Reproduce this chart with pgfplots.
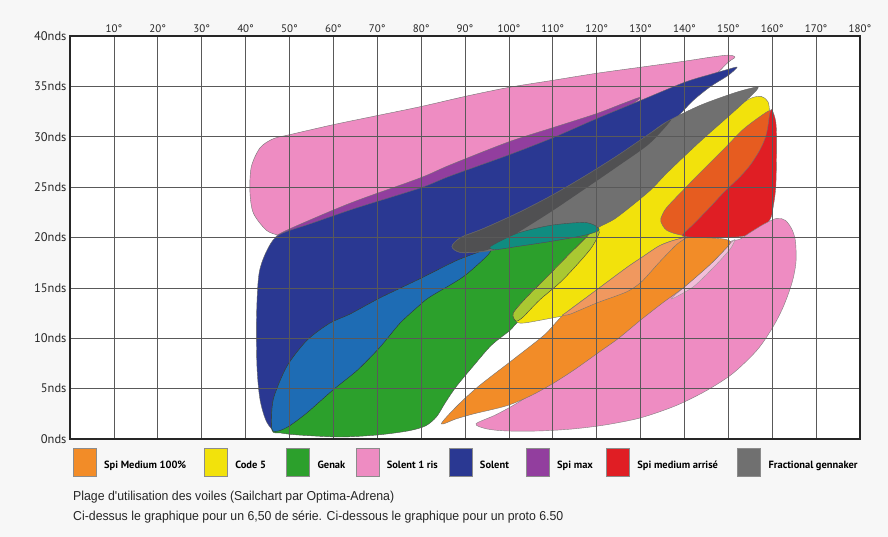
\documentclass[border=0pt]{standalone}
\usepackage{pgfplots}
\pgfplotsset{compat=1.18}
\usepackage{fontspec}
\setmainfont{PT Sans}
\newfontfamily\capfont[FakeStretch=0.95]{Liberation Sans}
\newfontfamily\legfont{PT Sans}
\definecolor{cpink}{RGB}{238,140,194}
\definecolor{cpurple}{RGB}{146,62,158}
\definecolor{cnavy}{RGB}{42,56,146}
\definecolor{clblue}{RGB}{30,108,180}
\definecolor{cgreen}{RGB}{44,160,44}
\definecolor{cteal}{RGB}{16,140,128}
\definecolor{cgray}{RGB}{112,112,112}
\definecolor{cdgray}{RGB}{80,80,82}
\definecolor{cyellow}{RGB}{242,226,12}
\definecolor{clime}{RGB}{170,200,50}
\definecolor{cored}{RGB}{230,92,32}
\definecolor{cred}{RGB}{224,30,36}
\definecolor{corange}{RGB}{242,140,40}
\definecolor{clorange}{RGB}{240,152,95}
\definecolor{clpink}{RGB}{242,190,218}
\begin{document}
\begin{tikzpicture}
\useasboundingbox[fill=black!3] (0,0) rectangle (888bp,537bp);
\begin{axis}[
  at={(70bp,98bp)}, anchor=south west,
  scale only axis, width=790bp, height=403bp,
  xmin=0, xmax=180, ymin=0, ymax=40,
  axis background/.style={fill=white},
  xtick={10,20,...,180},
  xticklabels={10°,20°,30°,40°,50°,60°,70°,80°,90°,100°,110°,120°,130°,140°,150°,160°,170°,180°},
  ytick={0,5,...,40},
  yticklabels={0nds,5nds,10nds,15nds,20nds,25nds,30nds,35nds,40nds},
  xticklabel pos=upper,
  grid=major, major grid style={black!65, line width=0.6pt},
  major tick length=0pt,
  axis on top,
  axis line style={black!85, line width=1.1pt},
  xticklabel style={font=\fontsize{11}{13}\selectfont, text=black!85},
  yticklabel style={font=\fontsize{12.5}{14}\selectfont, text=black!85},
  legend columns=8,
  legend cell align=left,
  legend style={at={(axis description cs:0.0038,-0.057)}, anchor=west,
    draw=none, fill=none, column sep=0pt, inner sep=0pt, outer sep=0pt,
    nodes={inner sep=0pt}, font=\legfont\bfseries\fontsize{10.5}{12}\selectfont},
  legend image code/.code={\draw[#1] (0bp,-10.7bp) rectangle (23bp,17.3bp); \path[fill=none, draw=none] (0bp,0bp) -- (31bp,0bp);},
  every axis plot/.append style={line width=0.4pt},
]
% Solent 1 ris (upper)
\addplot[forget plot, fill=cpink, draw=black!55, smooth cycle, tension=0.5] coordinates {
(41.0,24.5) (41.3,27.0) (43.3,28.9) (46.3,29.8) (50,30.2) (60,31.2) (70,32.1) (80,33.0)
(90,34.0) (100,34.9) (110,35.6) (120,36.3) (130,36.9) (140,37.5) (146,37.9) (150,38.1) (151.5,37.9)
(150,37.4) (146,35.8) (140,34.6) (130,32.9) (120,31.2) (110,29.5) (100,27.5) (90,26.0) (80,24.3)
(70,22.8) (60,21.4) (50,20.1) (47.8,20.2) (44.8,20.7) (41.8,22.4)};
% Spi max
\addplot[forget plot, fill=cpurple, draw=black!55, smooth cycle, tension=0.5] coordinates {
(47.5,20.3) (55,21.8) (65,23.6) (79.7,25.9) (86.6,27.2) (100,29.5) (110,30.9) (120,32.3) (126,33.3)
(130,33.9) (126,32.6) (120,31.0) (100,27.8) (80,24.3) (60,21.2) (48,19.8)};
% Solent
\addplot[forget plot, fill=cnavy, draw=black!60, smooth cycle, tension=0.5] coordinates {
(152,36.9) (150,36.1) (146,35.0) (142,33.6) (138,31.8) (132,29.3) (124.6,27.0) (116.9,24.7)
(109.4,22.5) (101,20.2) (97,19.0) (95.3,18.3) (89.6,16.1) (82,14.1) (79.7,13.3) (75.2,11.5)
(70.6,9.1) (65.4,6.8) (60,4.9) (54,2.6) (50,1.3) (47,0.7) (44.8,1.7) (43.3,3.9) (42.6,7.2)
(42.5,12.1) (43.1,16.5) (45.2,19.0) (47.8,20.3) (55,21.4) (65,22.9) (79.7,24.9) (86.6,26.1)
(100,28.2) (110,29.9) (120,31.8) (130,33.6) (140,35.4) (146,36.2) (150,36.7)};
% Genak
\addplot[forget plot, fill=cgreen, draw=black!70, smooth cycle, tension=0.5] coordinates {
(46,0.9) (46.3,3.9) (49.4,7.2) (54,9.8) (59.2,11.5) (63.8,12.4) (70.6,14.0) (79.7,15.9) (88,17.7)
(93.4,18.6) (96.4,19.3) (101.8,20.4) (109.4,21.2) (116.9,21.5) (119.6,21.2) (120.6,20.5)
(118.5,18.8) (112.3,15.8) (107,13.8) (103.2,12.1) (101.3,11.3) (100.3,10.8) (96,9.3) (92,7.3)
(88,5.2) (85.5,3.6) (83.5,2.2) (81,1.3) (77,0.8) (70,0.4) (61.5,0.2) (52,0.4) (48,0.6)};
% overlap Solent / Genak
\addplot[forget plot, fill=clblue, draw=black!80, smooth cycle, tension=0.45] coordinates {
(46,1.0) (46.3,3.9) (49.4,7.2) (54,9.8) (59.2,11.5) (63.8,12.4) (70.6,14.0) (79.7,15.9) (88,17.7)
(93.4,18.6) (95.8,19.0) (95.3,18.3) (89.6,16.1) (82,14.1) (79.7,13.3) (75.2,11.5) (70.6,9.1)
(65.4,6.8) (60,4.9) (54,2.6) (50,1.3) (47.5,0.8)};
% Code 5
\addplot[forget plot, fill=cyellow, draw=black!55, smooth cycle, tension=0.5] coordinates {
(101.6,11.7) (101,12.5) (104.1,14.1) (108.7,16.1) (113.2,18.1) (117.8,20.1) (120.3,21.6)
(124.6,22.6) (132,25.2) (143.5,30.1) (151,32.7) (155,33.8) (157.5,34.0) (159,33.5) (159.4,32.5)
(159.5,31) (158,28) (152,24) (146,21.5) (140.2,20.1) (137.4,18.6) (134.4,17.6) (130.2,15.6)
(126.8,14.6) (120,13.5) (113.2,12.3) (110.9,12.1) (104.8,11.6) (102.6,11.5)};
% overlap Genak / Code 5
\addplot[forget plot, fill=clime, draw=black!75, smooth cycle, tension=0.45] coordinates {
(101.6,11.7) (101,12.5) (104.1,14.1) (108.7,16.1) (113.2,18.1) (117.8,20.1) (119.8,21.0)
(120.6,20.5) (118.5,18.8) (112.3,15.8) (107,13.8) (103.2,12.1)};
% Fractional gennaker
\addplot[forget plot, fill=cgray, draw=black!60, smooth cycle, tension=0.5] coordinates {
(87,19.1) (89,20.0) (94.2,20.9) (101.8,22.4) (109.4,24.1) (116.9,26.0) (124.6,28.1) (132,30.3)
(136,31.5) (143.5,33.1) (151,34.3) (155,34.8) (156.8,34.9) (155.5,34.2) (151,32.4) (143.5,29.5)
(136,26.4) (132,24.6) (124.6,22.0) (120.8,21.1) (117,20.2) (109.4,19.6) (101.8,19.1) (94.2,18.6)
(89,18.5)};
% overlap gennaker / Solent
\addplot[forget plot, fill=cdgray, draw=none, smooth cycle, tension=0.45] coordinates {
(87.1,19.1) (89,19.95) (94.2,20.85) (101.8,22.35) (109.4,24.05) (116.9,25.95) (124.6,28.05)
(132,30.25) (137,31.7) (132,29.3) (124.6,27.0) (116.9,24.7) (109.4,22.5) (101,20.2) (97,19.1)
(94,18.65) (89,18.55)};
% overlap Genak / gennaker
\addplot[forget plot, fill=cteal, draw=black!70, smooth cycle, tension=0.45] coordinates {
(95.8,19.1) (101.8,20.4) (109.4,21.2) (116.9,21.5) (119.6,21.2) (120.5,20.7) (117,20.2)
(109.4,19.6) (101.8,19.1) (97,18.8)};
% upper orange
\addplot[forget plot, fill=cored, draw=black!55, smooth cycle, tension=0.5] coordinates {
(134.6,21.6) (136,20.7) (139.7,20.2) (145,20.1) (151,20.2) (156,20.8) (159,22.5) (160.2,26)
(160.5,30) (160,32.3) (159.4,32.6) (157.2,32.0) (153.3,30.7) (148.8,28.7) (143.5,26.4)
(139.7,24.7) (136,23.0) (134.9,22.2)};
% Spi medium arrise
\addplot[forget plot, fill=cred, draw=black!55, smooth cycle, tension=0.5] coordinates {
(159.9,32.7) (160.8,31.5) (161,29.4) (160.8,25.0) (160,22.5) (159.5,21.8) (158,20.9) (156.5,20.5)
(153,20.1) (148,20.0) (143.5,20.0) (140,20.1) (139.6,20.3) (142,21.3) (145.8,23.0) (149,24.5)
(152.6,26.0) (155,27.2) (157.2,28.7) (158.5,30) (159,31.0) (159.4,32.2)};
% Solent 1 ris (lower)
\addplot[forget plot, fill=cpink, draw=black!50, smooth cycle, tension=0.5] coordinates {
(92.5,1.5) (95,1.0) (99.5,0.8) (107,0.8) (114.6,1.0) (122,1.4) (130,2.1) (138,3.3) (145,4.8)
(151,6.5) (156.5,8.8) (160,11) (162.5,13.1) (164.5,15.5) (165.4,17.5) (165.3,19.6) (164.5,20.8)
(163,21.7) (161,21.9) (158,21.3) (155,20.5) (152.5,19.8) (150,19.5) (145,17.6) (140,15.6)
(130,12.3) (120,9.0) (110,5.9) (102,3.6) (97,2.4)};
% light overlap pink / orange
\addplot[forget plot, fill=clpink, draw=black!40, smooth cycle, tension=0.45] coordinates {
(137,13.9) (140,15.1) (145.8,17.3) (149.2,18.8) (150.4,19.4) (151.5,19.8) (150.5,18.9)
(147,17.2) (142,15.1)};
% Spi Medium 100%
\addplot[forget plot, fill=corange, draw=black!55, smooth cycle, tension=0.5] coordinates {
(84.6,1.5) (88,2.0) (92,2.5) (99.5,3.3) (105,4.3) (110,5.5) (115,6.9) (120.8,8.7) (125,10.0)
(130,11.8) (135,13.5) (140,15.1) (145.8,17.3) (149.2,18.8) (150.4,19.4) (150.2,19.7) (148,19.9)
(142,20.0) (138.2,19.8) (134.4,19.2) (130.2,18.0) (126.8,17.0) (120,14.8) (113.2,12.6) (111,11.7)
(108,10.3) (101,7.9) (93,5.2) (88,3.2)};
% overlap Spi Medium / Code 5
\addplot[forget plot, fill=clorange, draw=black!55, smooth cycle, tension=0.45] coordinates {
(112.2,12.3) (113.2,12.6) (120,14.8) (126.8,17.0) (130.2,18.0) (134.4,19.2) (138.2,19.8)
(140.4,20.0) (138.2,19.3) (134.4,17.6) (130.2,15.6) (126.8,14.6) (120,13.5) (114,12.4)};
% legend
\addlegendimage{fill=corange, draw=black!45}
\addlegendentry{\makebox[100bp][l]{Spi Medium 100\%}}
\addlegendimage{fill=cyellow, draw=black!45}
\addlegendentry{\makebox[51bp][l]{Code 5}}
\addlegendimage{fill=cgreen, draw=black!45}
\addlegendentry{\makebox[38bp][l]{Genak}}
\addlegendimage{fill=cpink, draw=black!45}
\addlegendentry{\makebox[62bp][l]{Solent 1 ris}}
\addlegendimage{fill=cnavy, draw=black!45}
\addlegendentry{\makebox[46bp][l]{Solent}}
\addlegendimage{fill=cpurple, draw=black!45}
\addlegendentry{\makebox[49bp][l]{Spi max}}
\addlegendimage{fill=cred, draw=black!45}
\addlegendentry{\makebox[100bp][l]{Spi medium arrisé}}
\addlegendimage{fill=cgray, draw=black!45}
\addlegendentry{\makebox[110bp][l]{Fractional gennaker}}
\end{axis}
\node[anchor=base west, inner sep=0pt, font=\capfont\fontsize{13}{15}\selectfont, text=black!85] at (73bp,37bp) {Plage d'utilisation des voiles (Sailchart par Optima-Adrena)};
\node[anchor=base west, inner sep=0pt, font=\capfont\fontsize{13}{15}\selectfont, text=black!85] at (73bp,17bp) {Ci-dessus le graphique pour un 6,50 de série. Ci-dessous le graphique pour un proto 6.50};
\end{tikzpicture}
\end{document}
